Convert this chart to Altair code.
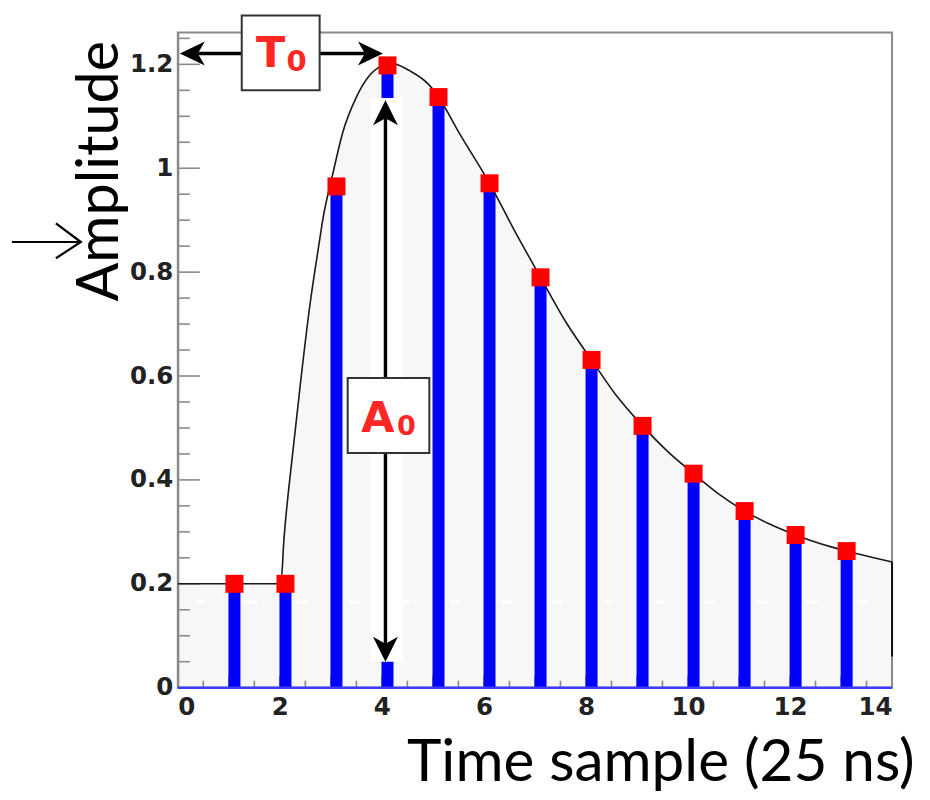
import altair as alt
import pandas as pd

# ---------------- data ----------------
samples = list(range(1, 14))
amplitudes = [0.2, 0.2, 0.965, 1.198, 1.137, 0.971, 0.79, 0.631, 0.504, 0.412, 0.340, 0.294, 0.263]
sample_offset = 0.11  # stems are drawn slightly right of the integer ticks

fit_t = [0, 2.02, 2.08, 2.25, 2.42, 2.58, 2.78, 2.84, 3.04, 3.23, 3.5, 3.76, 4.01, 4.15, 4.54,
         4.93, 5.11, 5.52, 6.11, 6.6, 7.11, 7.6, 8.11, 8.6, 9.11, 9.6, 10.11, 10.6, 11.11,
         11.6, 12.11, 12.6, 13.11, 13.6, 14]
fit_a = [0.2, 0.2, 0.285, 0.45, 0.6, 0.73, 0.862, 0.9, 0.99, 1.068, 1.137, 1.179, 1.198, 1.203,
         1.188, 1.16, 1.137, 1.067, 0.971, 0.88, 0.79, 0.705, 0.631, 0.562, 0.504, 0.455, 0.412,
         0.373, 0.340, 0.315, 0.294, 0.277, 0.263, 0.251, 0.242]

x_label_values = [0, 2, 4, 6, 8, 10, 12, 14]
x_major_ticks = list(range(15))
x_minor_ticks = [i + 0.5 for i in range(14)]
y_major_ticks = [0, 0.2, 0.4, 0.6, 0.8, 1.0, 1.2]
y_minor_ticks = [0.05, 0.1, 0.15, 0.25, 0.3, 0.35, 0.45, 0.5, 0.55, 0.65, 0.7, 0.75,
                 0.85, 0.9, 0.95, 1.05, 1.1, 1.15, 1.25]

x_title = "Time sample (25 ns)"
y_title = "Amplitude"

# annotation values (data units)
t0_arrow = {"x": [0.04, 4.02], "y": 1.221}
a0_arrow = {"x": 4.07, "y": [0.05, 1.131]}
a0_cover = {"x": [3.78, 4.42], "y": [0.05, 1.135]}
box_names = ["T0", "A0"]
box_x = [1.253, 3.33]
box_x2 = [2.78, 4.93]
box_y = [1.15, 0.452]
box_y2 = [1.294, 0.596]
label_text = ["T", "0", "A", "0"]
label_x = [1.82, 2.33, 3.92, 4.48]
label_y = [1.194, 1.188, 0.492, 0.4865]
label_size = [43, 29, 43, 27]
side_arrow = {"x": [-3.25, -1.9], "y": 0.858}
dash_level = 0.165

# ---------------- tables ----------------
pts = pd.DataFrame({"sample": samples, "amp": amplitudes})
pts["x"] = pts["sample"] + sample_offset
pts["y"] = pts["amp"]
pts["y0"] = 0.0

fit = pd.DataFrame({"x": fit_t, "y": fit_a})

W, H = 715, 656
xscale = alt.Scale(domain=[0, 14], nice=False, zero=False)
yscale = alt.Scale(domain=[0, 1.2615], nice=False, zero=False)

xaxis = alt.Axis(
    values=x_label_values, format="d",
    ticks=False, domain=False, grid=False,
    labelFont="DejaVu Sans", labelFontWeight="bold", labelFontSize=24.5, labelColor="#222222",
    labelPadding=8, labelOverlap=False, labelBaseline="top",
    title=x_title, titleFont="Lato", titleFontSize=58.5, titleFontWeight="normal", titleColor="#000000",
    titleAlign="right", titleBaseline="alphabetic", titleX=737, titleY=93, titleAngle=0,
    zindex=0,
)
yaxis = alt.Axis(
    values=y_major_ticks, format="~g",
    ticks=False, domain=True, domainColor="#8a8a8a", domainWidth=2, grid=False,
    labelFont="DejaVu Sans", labelFontWeight="bold", labelFontSize=24.5, labelColor="#222222",
    labelPadding=5, labelOverlap=False,
    title=y_title, titleFont="Lato", titleFontSize=57.5, titleFontWeight="normal", titleColor="#000000",
    titleAngle=270, titleAlign="right", titleBaseline="alphabetic", titleX=-60, titleY=8,
    zindex=0,
)


def X(field="x"):
    return alt.X(f"{field}:Q", scale=xscale)


def Y(field="y"):
    return alt.Y(f"{field}:Q", scale=yscale)


# gray fill under the fitted pulse (also carries the axes)
area = alt.Chart(fit).mark_area(color="#000000", opacity=0.032, interpolate="monotone").encode(
    x=alt.X("x:Q", scale=xscale, axis=xaxis),
    y=alt.Y("y:Q", scale=yscale, axis=yaxis),
)

# inward-pointing ticks (ROOT style)
tick_color = "#8a8a8a"
ytm = alt.Chart(pd.DataFrame({"y": y_major_ticks})).mark_rule(color=tick_color, strokeWidth=1.6).encode(
    y=Y(), x=alt.value(0), x2=alt.value(22))
ytn = alt.Chart(pd.DataFrame({"y": y_minor_ticks})).mark_rule(color=tick_color, strokeWidth=1.6).encode(
    y=Y(), x=alt.value(0), x2=alt.value(12))
xtm = alt.Chart(pd.DataFrame({"x": x_major_ticks})).mark_rule(color=tick_color, strokeWidth=1.6).encode(
    x=X(), y=alt.value(H), y2=alt.value(H - 12))
xtn = alt.Chart(pd.DataFrame({"x": x_minor_ticks})).mark_rule(color=tick_color, strokeWidth=1.6).encode(
    x=X(), y=alt.value(H), y2=alt.value(H - 7))

dash_df = pd.DataFrame({"x": [0], "x2": [14], "y": [dash_level]})
dashes = alt.Chart(dash_df).mark_rule(color="white", strokeWidth=3, strokeDash=[10, 41],
                                       strokeDashOffset=-18).encode(
    x=X(), x2="x2:Q", y=Y())

stems = alt.Chart(pts).mark_rule(color="#0000ff", strokeWidth=12).encode(
    x=X(), y=Y("y0"), y2="y:Q")

cover_df = pd.DataFrame({"x": [a0_cover["x"][0]], "x2": [a0_cover["x"][1]],
                         "y": [a0_cover["y"][0]], "y2": [a0_cover["y"][1]]})
cover = alt.Chart(cover_df).mark_rect(color="white").encode(x=X(), x2="x2:Q", y=Y(), y2="y2:Q")

edge_df = pd.DataFrame({"x": [fit_t[-1]], "y": [0.06], "y2": [fit_a[-1]]})
edge = alt.Chart(edge_df).mark_rule(color="#111111", strokeWidth=2).encode(x=X(), y=Y(), y2="y2:Q")

base_df = pd.DataFrame({"x": [0], "x2": [14], "y": [0]})
baseline = alt.Chart(base_df).mark_rule(color="#3c3cff", strokeWidth=2.5).encode(
    x=X(), x2="x2:Q", y=Y())

curve = alt.Chart(fit).mark_line(color="#1a1a1a", strokeWidth=1.6, interpolate="monotone").encode(
    x=X(), y=Y())

squares = alt.Chart(pts).mark_square(size=324, color="#ff0000", opacity=1).encode(x=X(), y=Y())

# arrows
shafts_df = pd.DataFrame({
    "x": [t0_arrow["x"][0] + 0.3, a0_arrow["x"], side_arrow["x"][0]],
    "x2": [t0_arrow["x"][1] - 0.3, a0_arrow["x"], side_arrow["x"][1]],
    "y": [t0_arrow["y"], a0_arrow["y"][0] + 0.03, side_arrow["y"]],
    "y2": [t0_arrow["y"], a0_arrow["y"][1] - 0.03, side_arrow["y"]],
    "w": [3.4, 3.4, 2.2],
})
shafts = alt.Chart(shafts_df).mark_rule(color="#000000").encode(
    x=X(), x2="x2:Q", y=Y(), y2="y2:Q", strokeWidth=alt.StrokeWidth("w:Q", scale=None))

head_left = "M0,0 L1,-0.48 L0.72,0 L1,0.48 Z"
head_right = "M0,0 L-1,-0.48 L-0.72,0 L-1,0.48 Z"
head_up = "M0,0 L-0.5,1 L0,0.72 L0.5,1 Z"
head_down = "M0,0 L-0.5,-1 L0,-0.72 L0.5,-1 Z"
heads_df = pd.DataFrame({
    "x": [t0_arrow["x"][0], t0_arrow["x"][1], a0_arrow["x"], a0_arrow["x"]],
    "y": [t0_arrow["y"], t0_arrow["y"], a0_arrow["y"][1], a0_arrow["y"][0]],
    "shape": [head_left, head_right, head_up, head_down],
})
heads = alt.Chart(heads_df).mark_point(filled=True, size=2500, color="#000000", opacity=1).encode(
    x=X(), y=Y(), shape=alt.Shape("shape:N", scale=None))

side_head_df = pd.DataFrame({"x": [side_arrow["x"][1]], "y": [side_arrow["y"]],
                             "shape": ["M-1,-0.75 L0,0 L-1,0.65"]})
side_head = alt.Chart(side_head_df).mark_point(filled=False, size=2500, color="#000000",
                                               strokeWidth=2.2, opacity=1).encode(
    x=X(), y=Y(), shape=alt.Shape("shape:N", scale=None))

boxes_df = pd.DataFrame({"name": box_names, "x": box_x, "x2": box_x2, "y": box_y, "y2": box_y2})
boxes = alt.Chart(boxes_df).mark_rect(fill="white", stroke="#333333", strokeWidth=2).encode(
    x=X(), x2="x2:Q", y=Y(), y2="y2:Q")

labels_df = pd.DataFrame({"text": label_text, "x": label_x, "y": label_y, "size": label_size})
labels = alt.Chart(labels_df).mark_text(font="DejaVu Sans", fontWeight="bold", color="#ff2626",
                                        align="center", baseline="alphabetic").encode(
    x=X(), y=Y(), text="text:N", size=alt.Size("size:Q", scale=None))

chart = alt.layer(
    area, ytm, ytn, xtm, xtn, dashes, stems, cover, edge, baseline, curve, squares,
    shafts, heads, side_head, boxes, labels,
).properties(
    width=W, height=H,
    autosize=alt.AutoSizeParams(type="none"),
    padding={"left": 170, "top": 24, "right": 30, "bottom": 104},
    background="white",
).configure_view(stroke="#8a8a8a", strokeWidth=2)

chart.save("out.html", embed_options={"renderer": "svg", "actions": False})
